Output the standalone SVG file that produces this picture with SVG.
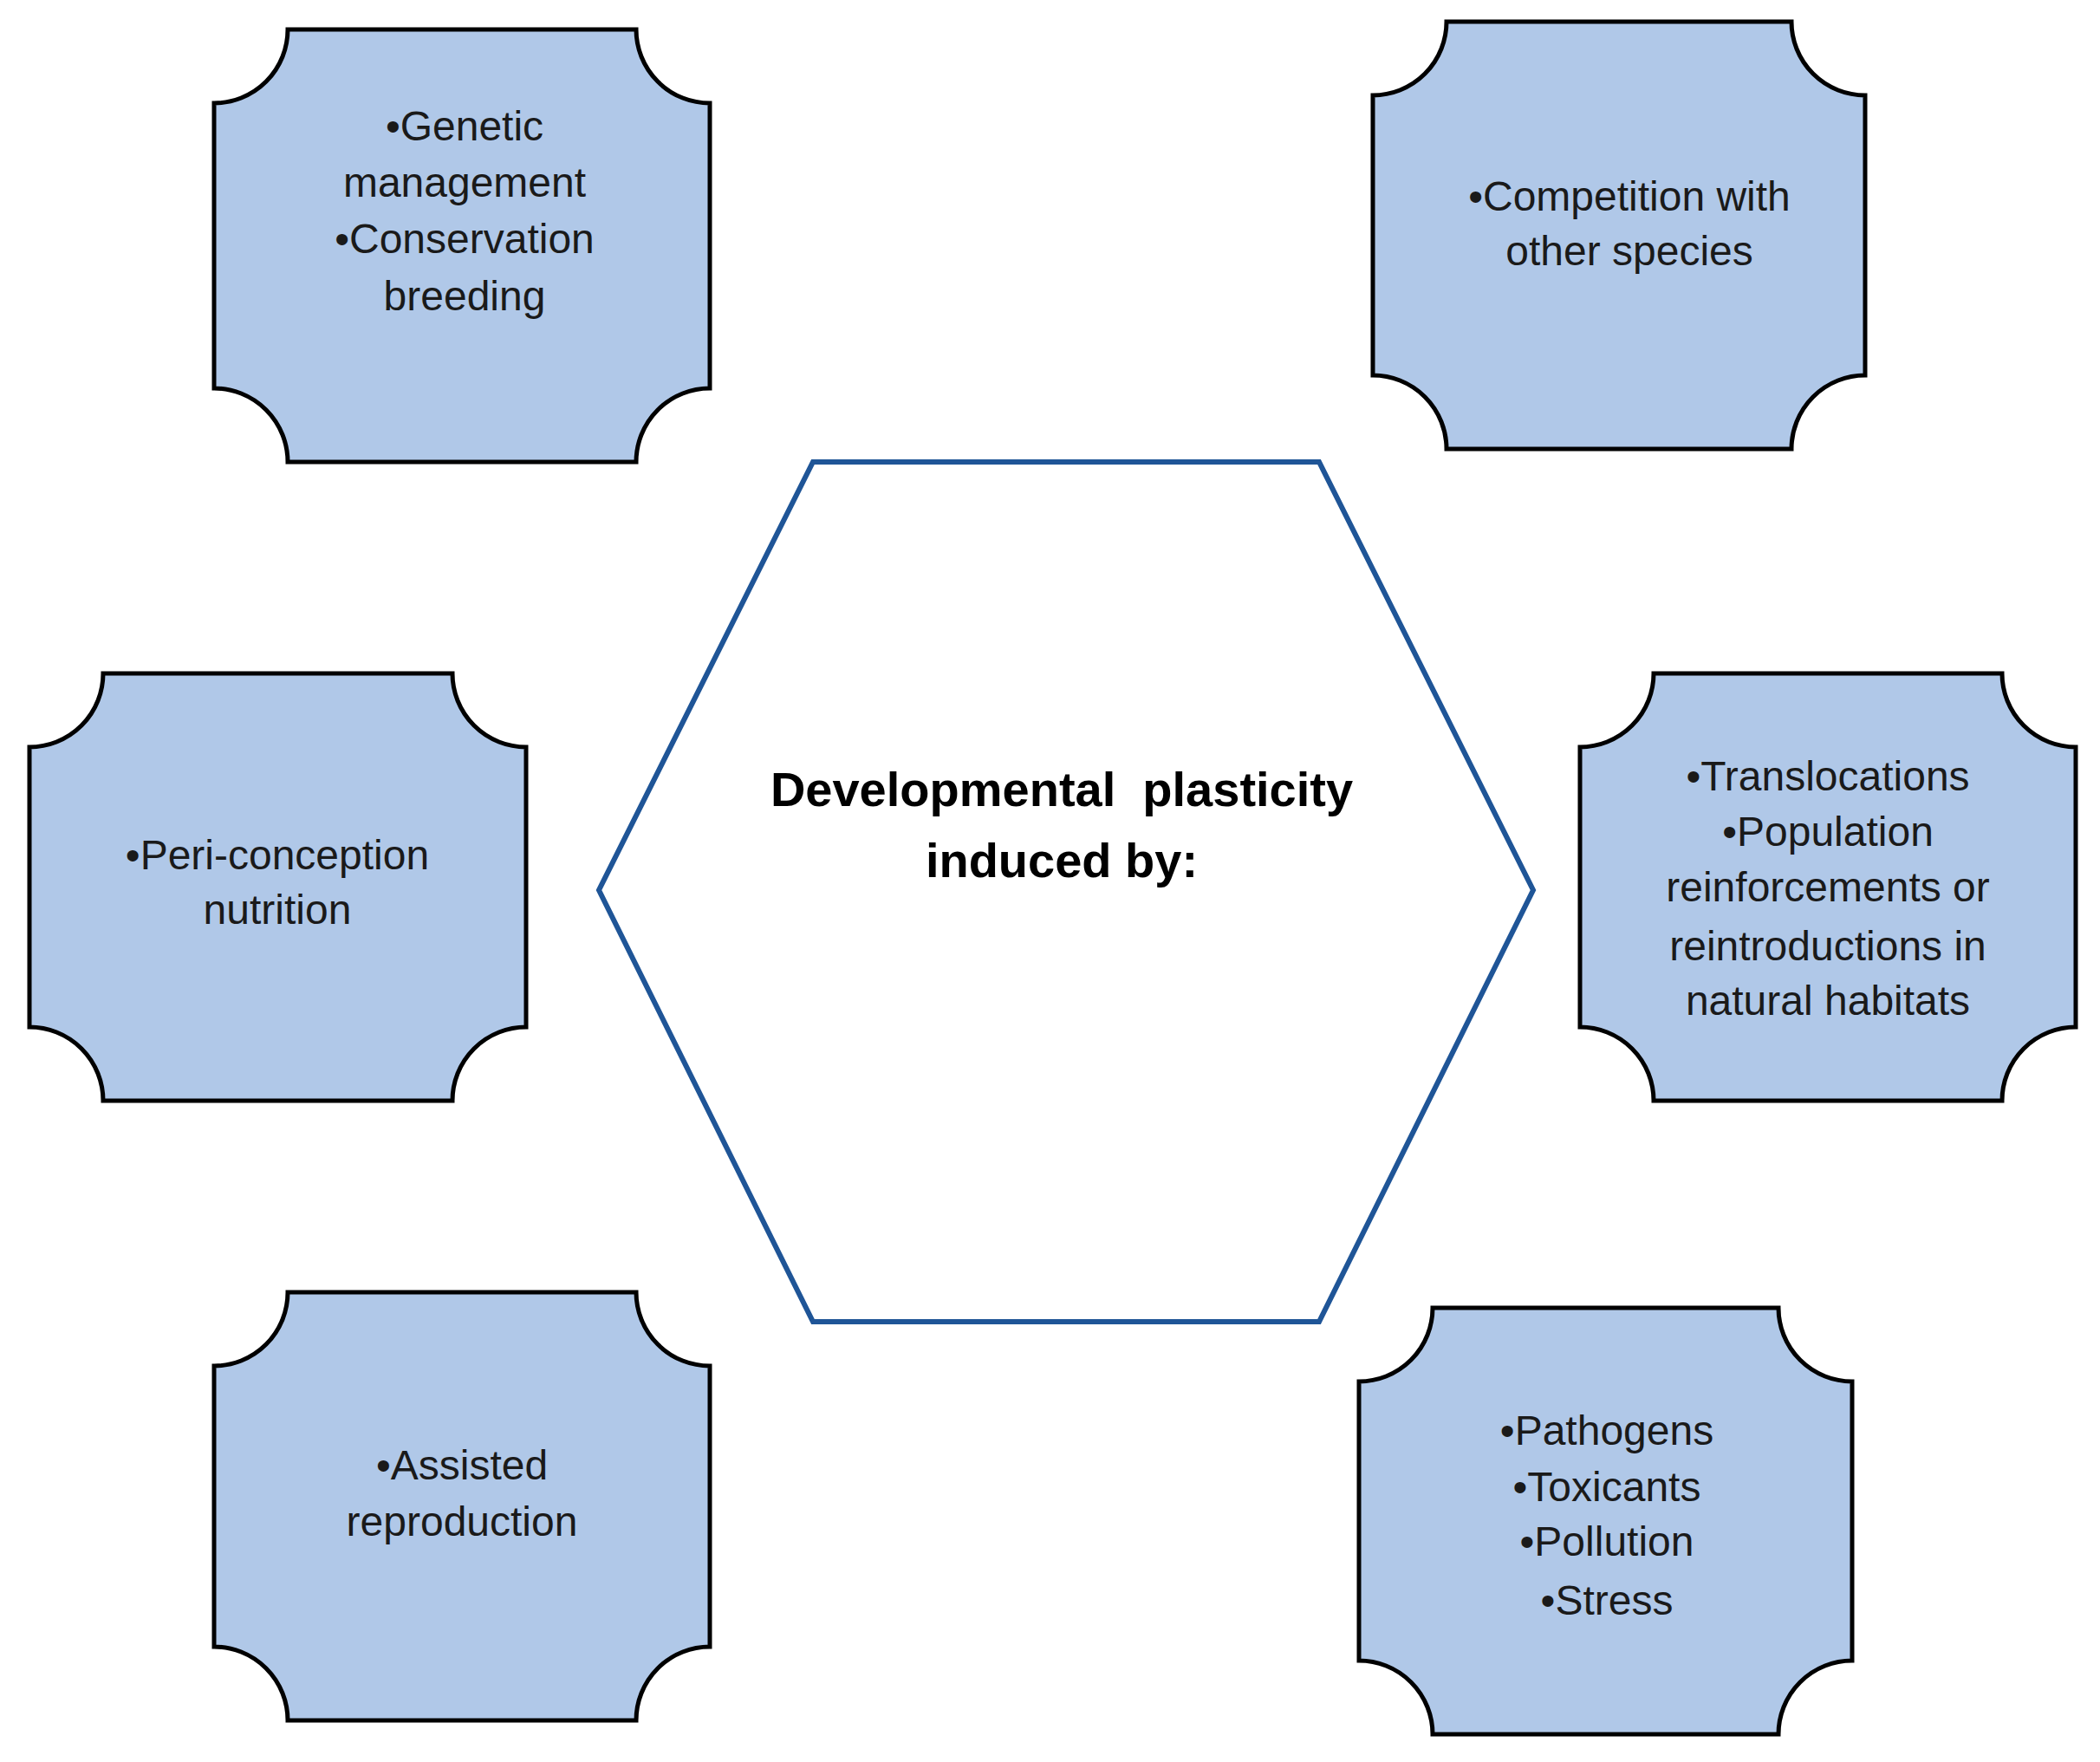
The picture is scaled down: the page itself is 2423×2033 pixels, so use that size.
<svg xmlns="http://www.w3.org/2000/svg" width="2423" height="2033" viewBox="0 0 2423 2033">
<style>
.b{fill:#b0c8e8;stroke:#000;stroke-width:5}
.t{font-family:"Liberation Sans",Arial,sans-serif;font-size:48px;fill:#1a1a1a;text-anchor:middle}
.h{font-family:"Liberation Sans",Arial,sans-serif;font-size:56px;font-weight:bold;fill:#000;text-anchor:middle}
</style>
<rect width="2423" height="2033" fill="#fff"/>
<g id="center"><polygon points="938,533 1522,533 1769,1027 1522,1525 938,1525 691,1027" fill="#fff" stroke="#1f5597" stroke-width="6"/>
<text class="h" x="1225" y="930" xml:space="preserve">Developmental  plasticity</text><text class="h" x="1225" y="1012">induced by:</text></g>
<g id="n1"><path class="b" d="M332,34 L734,34 A85,85 0 0 0 819,119 L819,448 A85,85 0 0 0 734,533 L332,533 A85,85 0 0 0 247,448 L247,119 A85,85 0 0 0 332,34 Z"/>
<text class="t" x="536" y="162">•Genetic</text><text class="t" x="536" y="227">management</text><text class="t" x="536" y="292">•Conservation</text><text class="t" x="536" y="358">breeding</text></g>
<g id="n2"><path class="b" d="M1669,25 L2067,25 A85,85 0 0 0 2152,110 L2152,433 A85,85 0 0 0 2067,518 L1669,518 A85,85 0 0 0 1584,433 L1584,110 A85,85 0 0 0 1669,25 Z"/>
<text class="t" x="1880" y="243">•Competition with</text><text class="t" x="1880" y="306">other species</text></g>
<g id="n3"><path class="b" d="M119,777 L522,777 A85,85 0 0 0 607,862 L607,1185 A85,85 0 0 0 522,1270 L119,1270 A85,85 0 0 0 34,1185 L34,862 A85,85 0 0 0 119,777 Z"/>
<text class="t" x="320" y="1003">•Peri-conception</text><text class="t" x="320" y="1066">nutrition</text></g>
<g id="n4"><path class="b" d="M1908,777 L2310,777 A85,85 0 0 0 2395,862 L2395,1185 A85,85 0 0 0 2310,1270 L1908,1270 A85,85 0 0 0 1823,1185 L1823,862 A85,85 0 0 0 1908,777 Z"/>
<text class="t" x="2109" y="912">•Translocations</text><text class="t" x="2109" y="976">•Population</text><text class="t" x="2109" y="1040">reinforcements or</text><text class="t" x="2109" y="1108">reintroductions in</text><text class="t" x="2109" y="1171">natural habitats</text></g>
<g id="n5"><path class="b" d="M332,1491 L734,1491 A85,85 0 0 0 819,1576 L819,1900 A85,85 0 0 0 734,1985 L332,1985 A85,85 0 0 0 247,1900 L247,1576 A85,85 0 0 0 332,1491 Z"/>
<text class="t" x="533" y="1707">•Assisted</text><text class="t" x="533" y="1772">reproduction</text></g>
<g id="n6"><path class="b" d="M1653,1509 L2052,1509 A85,85 0 0 0 2137,1594 L2137,1916 A85,85 0 0 0 2052,2001 L1653,2001 A85,85 0 0 0 1568,1916 L1568,1594 A85,85 0 0 0 1653,1509 Z"/>
<text class="t" x="1854" y="1667">•Pathogens</text><text class="t" x="1854" y="1732">•Toxicants</text><text class="t" x="1854" y="1795">•Pollution</text><text class="t" x="1854" y="1863">•Stress</text></g>
<g id="connectors"/>
</svg>
